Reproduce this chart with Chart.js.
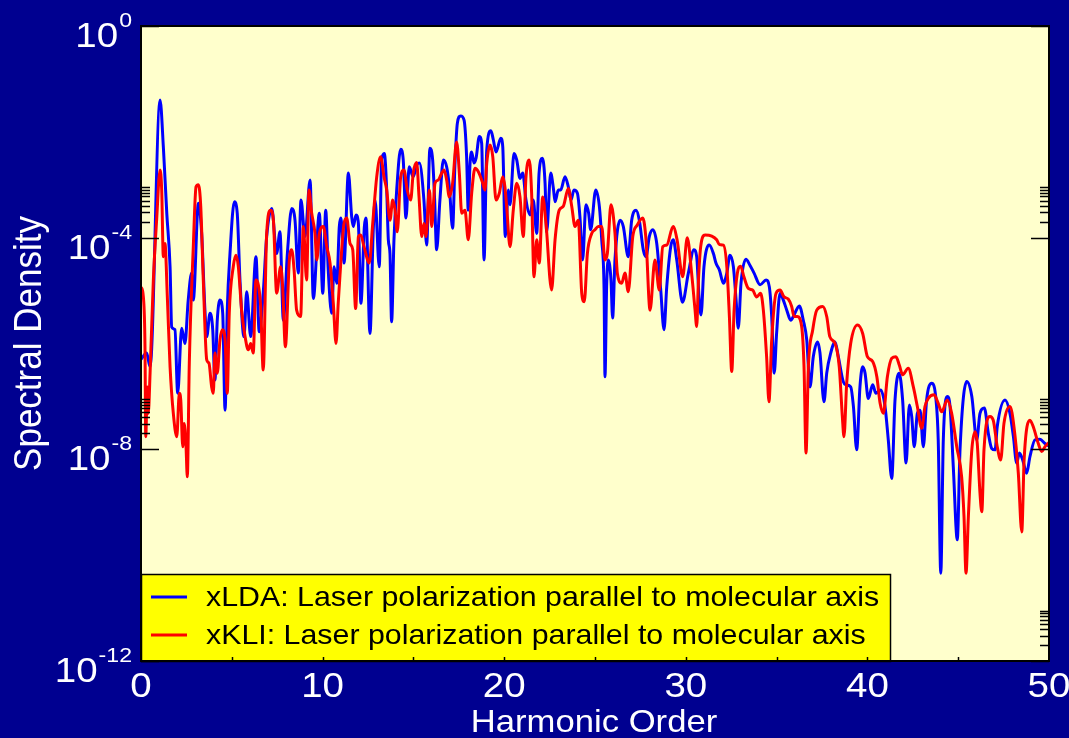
<!DOCTYPE html>
<html>
<head>
<meta charset="utf-8">
<script src="https://cdn.jsdelivr.net/npm/chart.js@4.4.0/dist/chart.umd.min.js"></script>
<style>
  html, body { margin: 0; padding: 0; background: #000090; }
  #wrap { width: 1069px; height: 738px; }
</style>
</head>
<body>
<div id="wrap"><canvas id="chart" width="1069" height="738"></canvas></div>
<script>
// harmonic order / log10(spectral density), xLDA
const ldaH = [0.00,0.31,0.50,1.05,1.23,1.42,1.60,1.69,1.87,2.02,2.24,2.42,2.60,2.79,2.88,3.16,3.34,3.52,3.62,3.80,3.95,4.07,4.20,4.35,4.50,4.63,4.75,4.90,5.14,5.30,5.45,5.67,5.82,6.04,6.33,6.51,6.73,6.92,7.20,7.47,7.65,7.84,8.06,8.30,8.48,8.66,8.81,9.03,9.31,9.49,9.82,10.01,10.17,10.31,10.50,10.63,10.78,10.92,11.01,11.18,11.42,11.60,11.69,11.84,11.97,12.11,12.30,12.39,12.61,12.79,12.89,13.12,13.25,13.40,13.53,13.62,13.71,13.80,13.93,14.08,14.30,14.44,14.59,14.77,14.99,15.18,15.33,15.58,15.73,15.91,16.06,16.17,16.28,16.46,16.65,16.83,16.98,17.16,17.29,17.42,17.60,17.79,17.93,18.02,18.12,18.21,18.34,18.45,18.63,18.76,18.89,19.04,19.27,19.40,19.55,19.81,19.92,20.06,20.23,20.32,20.54,20.69,20.87,21.02,21.20,21.42,21.60,21.79,21.92,22.10,22.25,22.34,22.56,22.71,22.80,22.98,23.11,23.35,23.53,23.68,23.84,24.03,24.17,24.32,24.50,24.65,24.76,25.04,25.24,25.37,25.50,25.55,25.64,25.73,25.88,25.97,26.10,26.38,26.56,26.83,27.02,27.26,27.44,27.66,27.81,27.99,28.18,28.40,28.62,28.80,28.95,29.17,29.31,29.50,29.82,30.14,30.45,30.60,30.74,30.84,31.00,31.29,31.52,31.66,31.85,32.07,32.26,32.43,32.62,32.77,32.89,33.04,33.31,33.53,33.76,34.09,34.42,34.60,34.73,34.87,35.00,35.19,35.37,35.56,35.78,35.96,36.25,36.47,36.66,36.84,37.02,37.26,37.39,37.61,37.76,37.98,38.22,38.40,38.67,38.82,39.08,39.23,39.41,39.59,39.74,39.87,40.05,40.29,40.47,40.73,40.97,41.15,41.34,41.52,41.74,41.94,42.13,42.31,42.44,42.58,42.75,42.90,43.08,43.26,43.54,43.78,43.90,44.04,44.18,44.40,44.55,44.73,44.95,45.10,45.47,45.75,46.02,46.20,46.44,46.66,46.84,47.03,47.15,47.58,47.85,48.04,48.22,48.37,48.55,48.77,48.95,49.23,49.50,49.78,50.00];
const ldaLog = [-6.30,-6.18,-6.44,-1.40,-2.28,-3.54,-4.55,-5.69,-5.74,-6.94,-5.71,-6.00,-5.18,-4.67,-5.18,-3.35,-3.92,-5.37,-5.87,-5.43,-5.74,-6.69,-5.56,-5.18,-5.43,-7.26,-5.37,-4.30,-3.32,-3.54,-4.80,-5.87,-5.02,-5.87,-4.36,-5.78,-5.05,-3.98,-3.45,-4.30,-3.89,-5.56,-4.30,-3.45,-3.67,-4.67,-3.29,-3.98,-2.91,-5.15,-3.54,-5.05,-3.48,-4.61,-5.43,-4.55,-4.86,-3.79,-3.63,-4.48,-2.78,-3.60,-3.79,-3.57,-3.73,-5.24,-3.79,-3.63,-5.81,-3.85,-3.29,-4.55,-2.53,-2.41,-3.10,-4.04,-4.30,-5.59,-4.04,-3.10,-2.33,-2.53,-3.63,-2.66,-2.85,-2.63,-2.59,-3.29,-4.14,-2.31,-2.53,-3.29,-4.23,-3.29,-2.53,-2.66,-3.04,-3.82,-2.59,-1.84,-1.70,-1.78,-2.47,-3.48,-2.59,-2.38,-2.59,-2.50,-2.09,-2.22,-4.42,-2.34,-1.98,-2.15,-2.38,-2.12,-2.28,-3.98,-3.10,-3.38,-2.41,-2.53,-2.88,-2.78,-3.29,-3.57,-3.29,-3.92,-2.78,-2.50,-2.97,-3.89,-2.78,-3.07,-3.32,-3.10,-3.10,-2.85,-3.04,-3.29,-3.10,-3.16,-3.60,-4.42,-3.38,-3.54,-3.85,-3.10,-3.41,-4.04,-4.99,-6.63,-4.93,-4.42,-4.80,-5.52,-4.42,-3.67,-3.79,-4.36,-3.67,-3.48,-3.67,-4.23,-4.36,-3.98,-3.85,-4.11,-4.99,-5.74,-4.93,-4.17,-4.04,-4.42,-5.22,-4.67,-4.23,-4.36,-5.18,-5.46,-4.55,-4.14,-4.30,-4.48,-4.61,-4.86,-4.67,-4.33,-4.55,-5.18,-5.71,-4.86,-4.41,-4.52,-4.67,-4.89,-4.80,-4.93,-5.49,-6.56,-5.81,-5.05,-5.18,-5.37,-5.56,-5.46,-5.29,-5.56,-5.93,-6.82,-6.25,-5.97,-6.18,-7.10,-6.56,-6.18,-5.97,-6.25,-6.72,-6.78,-6.82,-7.19,-8.01,-6.82,-6.44,-6.56,-7.04,-6.78,-6.94,-6.88,-7.19,-7.82,-8.55,-7.07,-6.56,-7.07,-8.26,-7.16,-7.38,-7.95,-7.32,-7.26,-7.95,-7.07,-6.75,-7.07,-7.82,-10.34,-7.82,-7.00,-7.19,-8.33,-9.71,-8.01,-6.72,-7.00,-7.82,-7.32,-7.22,-7.70,-7.98,-8.01,-7.57,-7.07,-7.32,-7.76,-8.26,-8.07,-8.20,-8.45,-8.14,-7.82,-7.81,-7.89,-7.94];

// harmonic order / log10(spectral density), xKLI
const kliH = [0.00,0.13,0.22,0.26,0.35,0.40,0.50,0.68,0.86,1.05,1.14,1.23,1.32,1.45,1.60,1.78,1.97,2.11,2.19,2.30,2.38,2.48,2.55,2.66,2.88,3.03,3.16,3.29,3.43,3.62,3.74,3.89,3.98,4.07,4.20,4.35,4.48,4.63,4.75,4.86,5.08,5.23,5.36,5.54,5.73,5.91,6.04,6.18,6.33,6.46,6.59,6.73,6.92,7.14,7.29,7.47,7.69,7.80,7.95,8.17,8.30,8.43,8.57,8.79,8.94,9.12,9.25,9.40,9.58,9.68,9.82,10.04,10.23,10.41,10.59,10.74,10.86,11.00,11.18,11.33,11.51,11.66,11.82,11.97,12.10,12.28,12.57,12.76,12.98,13.20,13.38,13.53,13.71,13.86,13.99,14.11,14.30,14.48,14.66,14.85,14.99,15.18,15.31,15.46,15.58,15.69,15.88,16.01,16.19,16.37,16.56,16.69,16.83,16.98,17.16,17.38,17.53,17.66,17.84,18.02,18.21,18.39,18.57,18.82,18.94,19.04,19.22,19.37,19.55,19.73,19.92,20.04,20.15,20.32,20.50,20.69,20.87,21.05,21.20,21.38,21.51,21.64,21.79,21.93,22.12,22.30,22.61,22.80,23.03,23.25,23.53,23.72,23.90,24.08,24.27,24.41,24.58,24.82,25.00,25.18,25.37,25.55,25.68,25.88,26.10,26.23,26.47,26.65,26.83,27.08,27.33,27.63,27.81,28.03,28.30,28.54,28.73,28.95,29.30,29.52,29.83,30.08,30.32,30.51,30.60,30.69,30.82,31.06,31.43,31.70,31.85,32.07,32.26,32.40,32.53,32.66,32.84,33.02,33.20,33.44,33.68,33.90,34.12,34.27,34.45,34.58,34.73,34.97,35.19,35.41,35.64,35.83,35.96,36.14,36.38,36.51,36.62,36.75,36.99,37.21,37.54,37.76,37.93,38.22,38.45,38.62,38.71,38.86,39.08,39.46,39.74,40.00,40.29,40.52,40.70,40.88,41.10,41.34,41.57,41.76,41.94,42.25,42.53,42.75,42.99,43.17,43.35,43.67,43.90,44.09,44.40,44.64,44.92,45.19,45.32,45.43,45.56,45.75,45.93,46.05,46.20,46.30,46.42,46.75,46.93,47.15,47.34,47.52,47.85,48.07,48.31,48.50,48.63,48.95,49.13,49.41,49.60,49.78,50.00];
const kliLog = [-4.93,-5.12,-6.06,-7.76,-6.82,-7.32,-6.56,-4.80,-3.67,-2.72,-3.10,-4.36,-4.11,-5.12,-6.44,-7.32,-7.76,-6.94,-7.07,-7.95,-7.51,-7.95,-8.52,-6.37,-4.17,-3.04,-3.00,-3.41,-4.80,-6.31,-6.37,-6.82,-6.94,-6.18,-6.56,-5.93,-5.74,-5.93,-6.94,-5.43,-4.55,-4.33,-4.55,-5.37,-5.87,-6.12,-6.00,-6.18,-4.80,-4.89,-5.30,-6.50,-3.92,-3.48,-3.67,-5.05,-4.55,-4.93,-6.06,-4.42,-4.23,-4.61,-5.37,-5.49,-3.79,-4.80,-3.10,-3.54,-3.92,-4.42,-3.92,-3.79,-4.17,-4.48,-5.24,-6.00,-5.24,-4.48,-3.73,-3.63,-4.11,-4.23,-5.34,-3.98,-3.95,-4.17,-4.48,-3.73,-2.85,-2.47,-2.85,-3.10,-3.67,-3.29,-3.48,-3.89,-2.85,-2.72,-3.10,-3.29,-2.78,-2.58,-3.23,-3.98,-3.73,-3.98,-3.10,-3.79,-2.97,-2.91,-2.78,-2.72,-2.91,-3.23,-2.97,-2.19,-2.78,-3.54,-3.48,-4.04,-3.16,-2.69,-2.75,-2.97,-3.10,-2.59,-2.25,-2.47,-3.29,-3.16,-2.85,-3.04,-3.48,-4.17,-3.48,-2.97,-3.23,-3.98,-2.85,-2.53,-3.16,-4.74,-4.04,-4.48,-3.23,-3.73,-4.99,-4.04,-3.48,-3.41,-3.07,-3.41,-3.79,-3.67,-5.05,-5.21,-4.30,-3.92,-3.85,-3.79,-3.79,-4.42,-4.30,-3.38,-3.92,-4.67,-4.86,-4.67,-5.02,-3.98,-3.76,-3.63,-4.04,-5.37,-4.42,-4.99,-4.17,-4.14,-3.79,-4.04,-4.74,-4.00,-4.67,-5.37,-5.68,-4.86,-4.17,-3.95,-3.97,-4.04,-4.13,-4.14,-4.55,-5.49,-6.53,-5.37,-4.67,-4.54,-4.74,-4.96,-4.99,-5.12,-5.05,-5.37,-6.25,-7.10,-5.93,-5.05,-4.99,-5.12,-5.16,-5.30,-5.49,-5.49,-5.68,-6.44,-8.07,-6.44,-5.74,-5.37,-5.30,-5.49,-5.87,-6.00,-6.44,-7.38,-7.76,-6.75,-6.00,-5.65,-5.81,-6.25,-6.34,-6.63,-7.13,-7.32,-6.63,-6.28,-6.25,-6.41,-6.59,-6.47,-6.82,-7.19,-7.60,-7.19,-7.04,-6.97,-7.13,-7.29,-7.07,-7.32,-7.95,-8.52,-9.27,-10.34,-9.27,-8.01,-7.67,-7.89,-8.83,-9.18,-8.01,-7.38,-7.45,-7.95,-8.20,-7.51,-7.19,-7.57,-8.45,-9.56,-8.20,-7.45,-7.57,-7.89,-8.04,-7.95,-7.87];

const seriesLabels = ['xLDA: Laser polarization parallel to molecular axis',
                      'xKLI: Laser polarization parallel to molecular axis'];
const seriesColors = ['#0000ff', '#ff0000'];
const xTickVals = [0, 10, 20, 30, 40, 50];
const xMinorVals = [5, 10, 15, 20, 25, 30, 35, 40, 45];
const yMajorExp = [-12, -8, -4, 0];
const yMinorDecades = [-12, -8, -4];

const BG = '#000090';
const PLOT_BG = '#ffffcc';
const FONT = '"Liberation Sans", Arial, sans-serif';
const SX = 1.1;   // glyphs are a little wider than plain Arial

function toPoints(hs, logs) {
  return hs.map((h, i) => ({ x: h, y: Math.pow(10, logs[i]) }));
}

// text drawn with a slight horizontal stretch
function wideText(ctx, txt, x, y, size, align) {
  ctx.save();
  ctx.translate(x, y);
  ctx.scale(SX, 1);
  ctx.font = size + 'px ' + FONT;
  ctx.textAlign = align;
  ctx.fillText(txt, 0, 0);
  ctx.restore();
}
function wideWidth(ctx, txt, size) {
  ctx.save();
  ctx.font = size + 'px ' + FONT;
  const w = ctx.measureText(txt).width * SX;
  ctx.restore();
  return w;
}

const backdrop = {
  id: 'backdrop',
  beforeDraw(chart) {
    const { ctx, chartArea: a } = chart;
    ctx.save();
    ctx.fillStyle = BG;
    ctx.fillRect(0, 0, chart.width, chart.height);
    ctx.fillStyle = PLOT_BG;
    ctx.fillRect(a.left, a.top, a.right - a.left, a.bottom - a.top);
    ctx.restore();
  }
};

const frame = {
  id: 'frame',
  afterDatasetsDraw(chart) {
    const { ctx, chartArea: a, scales } = chart;
    const xs = scales.x, ys = scales.y;
    ctx.save();
    ctx.strokeStyle = '#000';
    ctx.lineWidth = 1.5;

    // inward ticks on left and right
    const tick = (y, len) => {
      ctx.beginPath();
      ctx.moveTo(a.left, y); ctx.lineTo(a.left + len, y);
      ctx.moveTo(a.right, y); ctx.lineTo(a.right - len, y);
      ctx.stroke();
    };
    yMajorExp.forEach(e => tick(Math.round(ys.getPixelForValue(Math.pow(10, e))) + 0.5, 18));
    yMinorDecades.forEach(e => {
      for (let k = 2; k <= 9; k++) tick(Math.round(ys.getPixelForValue(k * Math.pow(10, e))) + 0.5, 9);
    });

    // legend box
    const lx = a.left, ly = 574, lw = 749, lh = a.bottom - ly;
    ctx.fillStyle = '#ffff00';
    ctx.fillRect(lx, ly, lw, lh);
    ctx.lineWidth = 1.5;
    ctx.strokeRect(lx + 0.5, ly + 0.5, lw, lh);
    ctx.textBaseline = 'middle';
    seriesLabels.forEach((t, i) => {
      const yy = 597 + i * 38;
      ctx.strokeStyle = seriesColors[i];
      ctx.lineWidth = 3;
      ctx.beginPath(); ctx.moveTo(151, yy); ctx.lineTo(187, yy); ctx.stroke();
      ctx.fillStyle = '#000';
      wideText(ctx, t, 206, yy + 1, 27.6, 'left');
    });

    // short ticks along the bottom edge
    ctx.strokeStyle = '#000';
    ctx.lineWidth = 1.5;
    xMinorVals.forEach(v => {
      const x = Math.round(xs.getPixelForValue(v)) + 0.5;
      ctx.beginPath(); ctx.moveTo(x, a.bottom); ctx.lineTo(x, a.bottom - 4); ctx.stroke();
    });

    // plot frame
    ctx.lineWidth = 2;
    ctx.strokeRect(a.left, a.top, a.right - a.left, a.bottom - a.top);

    // tick labels
    ctx.fillStyle = '#fff';
    ctx.textBaseline = 'alphabetic';
    yMajorExp.forEach(e => {
      const y = ys.getPixelForValue(Math.pow(10, e));
      const exp = String(e);
      const right = 132;
      wideText(ctx, exp, right, y + 1, 21, 'right');
      const ew = wideWidth(ctx, exp, 21);
      wideText(ctx, '10', right - ew - 1, y + 21, 35, 'right');
    });
    xTickVals.forEach(v => wideText(ctx, String(v), xs.getPixelForValue(v), 697, 35, 'center'));

    // axis titles
    wideText(ctx, 'Harmonic Order', 594, 732, 31.5, 'center');
    ctx.translate(41, (a.top + a.bottom) / 2);
    ctx.scale(SX, 1);
    ctx.rotate(-Math.PI / 2);
    ctx.font = '35px ' + FONT;
    ctx.textAlign = 'center';
    ctx.fillText('Spectral Density', 0, 0);
    ctx.restore();
  }
};

new Chart(document.getElementById('chart'), {
  type: 'line',
  data: {
    datasets: [
      { label: seriesLabels[0], data: toPoints(ldaH, ldaLog), borderColor: seriesColors[0], order: 1 },
      { label: seriesLabels[1], data: toPoints(kliH, kliLog), borderColor: seriesColors[1], order: 0 }
    ]
  },
  options: {
    responsive: false,
    animation: false,
    devicePixelRatio: 1,
    layout: { padding: { left: 141, top: 26, right: 20, bottom: 77 } },
    elements: {
      line: { borderWidth: 3, cubicInterpolationMode: 'monotone', borderJoinStyle: 'round' },
      point: { radius: 0 }
    },
    plugins: { legend: { display: false }, tooltip: { enabled: false } },
    scales: {
      x: { type: 'linear', min: 0, max: 50, display: false },
      y: { type: 'logarithmic', min: 1e-12, max: 1, display: false }
    }
  },
  plugins: [backdrop, frame]
});
</script>
</body>
</html>
